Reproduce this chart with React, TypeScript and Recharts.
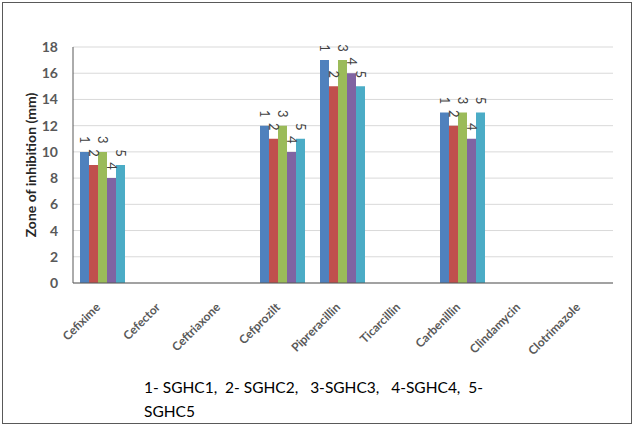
import React from 'react';
import { BarChart, Bar, XAxis, YAxis, CartesianGrid, LabelList } from 'recharts';

const ANTIBIOTICS = [
  'Cefixime', 'Cefector', 'Ceftriaxone', 'Cefprozilt', 'Pipreracillin',
  'Ticarcillin', 'Carbenillin', 'Clindamycin', 'Clotrimazole',
];
const SGHC1 = [10, 0, 0, 12, 17, 0, 13, 0, 0];
const SGHC2 = [9, 0, 0, 11, 15, 0, 12, 0, 0];
const SGHC3 = [10, 0, 0, 12, 17, 0, 13, 0, 0];
const SGHC4 = [8, 0, 0, 10, 16, 0, 11, 0, 0];
const SGHC5 = [9, 0, 0, 11, 15, 0, 13, 0, 0];
const Y_TICKS = [0, 2, 4, 6, 8, 10, 12, 14, 16, 18];

const SERIES = [
  { key: 's1', label: '1', color: '#4F81BD', values: SGHC1 },
  { key: 's2', label: '2', color: '#C0504D', values: SGHC2 },
  { key: 's3', label: '3', color: '#9BBB59', values: SGHC3 },
  { key: 's4', label: '4', color: '#8064A2', values: SGHC4 },
  { key: 's5', label: '5', color: '#4BACC6', values: SGHC5 },
];

const data = ANTIBIOTICS.map((name, i) => {
  const row: Record<string, string | number> = { name };
  SERIES.forEach(s => { row[s.key] = s.values[i]; });
  return row;
});

const FONT = 'Lato, Carlito, Calibri, sans-serif';

const AngledTick = ({ x, y, payload }: any) => (
  <g transform={`translate(${x - 2},${y + 17}) rotate(-45)`}>
    <text textAnchor="end" fill="#595959" fontSize={12} fontWeight="bold" fontFamily={FONT}>
      {payload.value}
    </text>
  </g>
);

// series number written top-to-bottom just above each non-zero bar
const seriesLabel = (text: string) => (props: any) => {
  const vb = props.viewBox || {};
  const x = Number(props.x ?? vb.x);
  const y = Number(props.y ?? vb.y);
  const width = Number(props.width ?? vb.width);
  if (!props.value) return null;
  const cx = x + width / 2;
  const cy = y - 12;
  return (
    <g transform={`translate(${cx},${cy}) rotate(90)`}>
      <text textAnchor="middle" dominantBaseline="central" fill="#404040" fontSize={13} fontFamily={FONT}>
        {text}
      </text>
    </g>
  );
};

export default function App() {
  return (
    <div style={{ position: 'absolute', left: 0, top: 0, width: 636, height: 431, background: '#fff' }}>
      <div style={{
        position: 'absolute', left: 2, top: 2, width: 628, height: 420,
        border: '1.5px solid #595959', boxSizing: 'content-box',
      }} />
      <BarChart
        width={636} height={431} data={data}
        margin={{ top: 47, right: 23, bottom: 88, left: 0 }}
        barCategoryGap={7} barGap={0}
      >
        <CartesianGrid vertical={false} stroke="#d9d9d9" />
        <XAxis
          dataKey="name" interval={0} height={60} tickLine={false}
          axisLine={{ stroke: '#595959' }} tick={<AngledTick />}
        />
        <YAxis
          width={73} domain={[0, 18]} ticks={Y_TICKS} tickLine={false} tickMargin={9}
          axisLine={{ stroke: '#595959' }}
          tick={{ fill: '#595959', fontSize: 14, fontWeight: 'bold', fontFamily: FONT }}
          label={{
            value: 'Zone of inhibition (mm)', angle: -90, position: 'insideLeft', offset: 31,
            style: { fill: '#262626', fontSize: 14, fontWeight: 'bold', fontFamily: FONT, textAnchor: 'middle' },
          }}
        />
        {SERIES.map(s => (
          <Bar key={s.key} dataKey={s.key} fill={s.color} isAnimationActive={false}>
            <LabelList dataKey={s.key} content={seriesLabel(s.label)} />
          </Bar>
        ))}
      </BarChart>
      <div style={{
        position: 'absolute', left: 144, top: 375, fontFamily: FONT, fontSize: 15.5,
        lineHeight: '24px', color: '#000', whiteSpace: 'pre',
      }}>
        {'1- SGHC1,  2- SGHC2,   3-SGHC3,   4-SGHC4,  5-\nSGHC5'}
      </div>
    </div>
  );
}
